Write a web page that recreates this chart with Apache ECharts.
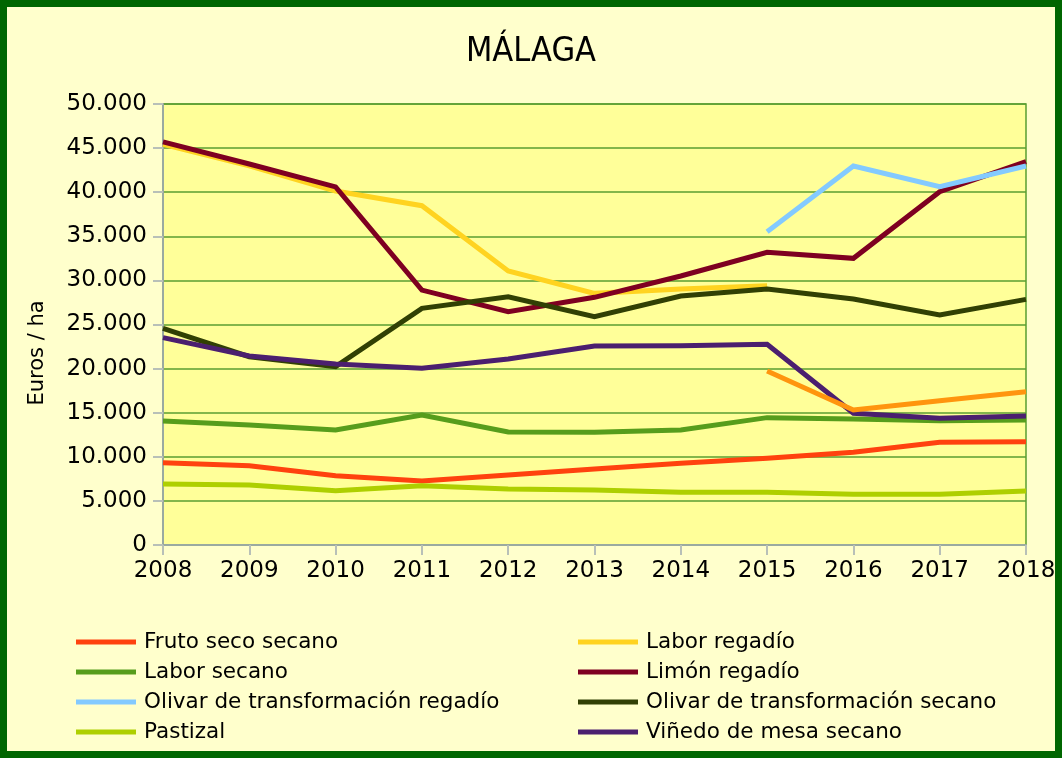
<!DOCTYPE html>
<html>
<head>
<meta charset="utf-8">
<script src="https://cdn.jsdelivr.net/npm/echarts@6/dist/echarts.min.js"></script>
<style>
  html, body { margin: 0; padding: 0; background: #FFFFCC; }
  #chart { width: 1062px; height: 758px; }
</style>
</head>
<body>
<div id="chart"></div>
<script>
// años
var years = ['2008', '2009', '2010', '2011', '2012', '2013', '2014', '2015', '2016', '2017', '2018'];

var frutoSecoSecano = [9330, 8990, 7860, 7260, 7940, 8620, 9260, 9830, 10510, 11640, 11710];
var laborRegadio = [45430, 43000, 40130, 38470, 31070, 28530, 29020, 29400, null, null, null];
var laborSecano = [14060, 13610, 13040, 14740, 12810, 12780, 13040, 14440, 14290, 14100, 14170];
var limonRegadio = [45700, 43200, 40600, 28900, 26450, 28080, 30500, 33180, 32500, 40060, 43460];
var olivarTransfRegadio = [null, null, null, null, null, null, null, 35520, 42970, 40630, 42970];
var olivarTransfSecano = [24570, 21350, 20220, 26830, 28150, 25890, 28230, 29020, 27890, 26080, 27850];
var pastizal = [6920, 6800, 6160, 6730, 6350, 6240, 5970, 5970, 5750, 5750, 6120];
var vinedoMesaSecano = [23510, 21430, 20520, 20030, 21090, 22560, 22600, 22750, 14930, 14360, 14630];
// linea naranja sin entrada en la leyenda
var sinLeyenda = [null, null, null, null, null, null, null, 19730, 15310, 16360, 17380];

var yTicks = { min: 0, max: 50000, interval: 5000 };

var series = [
  { name: 'Fruto seco secano', data: frutoSecoSecano, color: '#FF420E' },
  { name: 'Labor regadío', data: laborRegadio, color: '#FFD320' },
  { name: 'Labor secano', data: laborSecano, color: '#579D1C' },
  { name: 'Limón regadío', data: limonRegadio, color: '#7E0021' },
  { name: 'Olivar de transformación regadío', data: olivarTransfRegadio, color: '#83CAFF' },
  { name: 'Olivar de transformación secano', data: olivarTransfSecano, color: '#314004' },
  { name: 'Pastizal', data: pastizal, color: '#AECF00' },
  { name: 'Viñedo de mesa secano', data: vinedoMesaSecano, color: '#4B1F6F' },
  { name: 'otro', data: sinLeyenda, color: '#FF950E' }
];

function miles(v) {
  return String(v).replace(/\B(?=(\d{3})+(?!\d))/g, '.');
}

var font = 'DejaVu Sans';
var legendBase = {
  orient: 'vertical',
  top: 626,
  icon: 'rect',
  itemWidth: 60,
  itemHeight: 5,
  itemGap: 8,
  textStyle: { fontFamily: font, fontSize: 21.5, color: '#000', lineHeight: 22, padding: [0, 0, 0, 3] },
  selectedMode: false
};

var myChart = echarts.init(document.getElementById('chart'));
myChart.setOption({
  backgroundColor: '#FFFFCC',
  animation: false,
  title: {
    text: 'MÁLAGA',
    left: 'center',
    top: 30,
    textStyle: { fontFamily: 'DejaVu Sans Condensed', fontSize: 34, fontWeight: 'normal', color: '#000' }
  },
  legend: [
    Object.assign({ left: 71, data: ['Fruto seco secano', 'Labor secano', 'Olivar de transformación regadío', 'Pastizal'] }, legendBase),
    Object.assign({ left: 573, data: ['Labor regadío', 'Limón regadío', 'Olivar de transformación secano', 'Viñedo de mesa secano'] }, legendBase)
  ],
  grid: {
    left: 163, right: 36, top: 104, bottom: 213,
    show: true,
    backgroundColor: '#FFFF99',
    borderColor: '#5A9E32',
    borderWidth: 1.5
  },
  xAxis: {
    type: 'category',
    boundaryGap: false,
    data: years,
    axisLine: { lineStyle: { color: '#9AAAA0', width: 2 } },
    axisTick: { show: true, length: 10, lineStyle: { color: '#B8C0B8', width: 2 } },
    axisLabel: { fontFamily: font, fontSize: 23, color: '#000', margin: 15 },
    splitLine: { show: false }
  },
  yAxis: {
    type: 'value',
    min: yTicks.min,
    max: yTicks.max,
    interval: yTicks.interval,
    axisLine: { show: true, lineStyle: { color: '#9AAAA0', width: 2 } },
    axisTick: { show: true, length: 10, lineStyle: { color: '#B8C0B8', width: 2 } },
    axisLabel: { fontFamily: font, fontSize: 23, color: '#000', margin: 16, formatter: miles },
    splitLine: { lineStyle: { color: '#5A9E32', width: 1.5 } }
  },
  graphic: [
    {
      type: 'text',
      x: 38, y: 353,
      rotation: Math.PI / 2,
      style: { text: 'Euros / ha', fontFamily: font, fontSize: 21, fill: '#000', align: 'center', verticalAlign: 'middle' }
    },
    {
      type: 'rect',
      shape: { x: 3.5, y: 3.5, width: 1055, height: 751 },
      style: { fill: 'none', stroke: '#006600', lineWidth: 7 },
      z: 100
    }
  ],
  series: series.map(function (s) {
    return {
      name: s.name,
      type: 'line',
      data: s.data,
      showSymbol: false,
      symbol: 'none',
      connectNulls: false,
      color: s.color,
      lineStyle: { width: 5, color: s.color, join: 'miter' }
    };
  })
});
</script>
</body>
</html>
